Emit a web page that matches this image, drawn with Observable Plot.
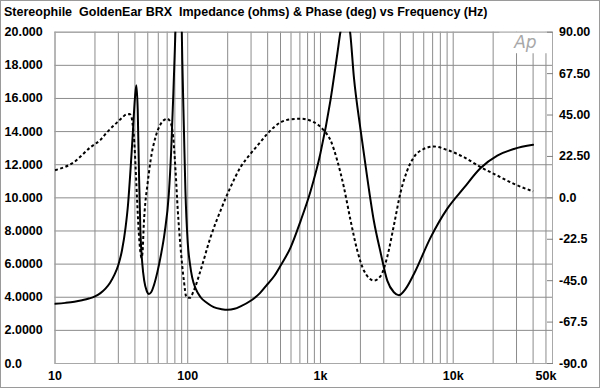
<!DOCTYPE html>
<html><head><meta charset="utf-8">
<script src="https://cdn.jsdelivr.net/npm/d3@7"></script>
<script src="https://cdn.jsdelivr.net/npm/@observablehq/plot@0.6"></script>
<style>
html,body{margin:0;padding:0;background:#fff;}
#wrap{position:relative;width:600px;height:388px;overflow:hidden;font-family:"Liberation Sans",Arial,Helvetica,sans-serif;}
#title{position:absolute;left:4px;top:5px;font-weight:bold;font-size:12.5px;color:#000;white-space:pre;line-height:14px;}
#border{position:absolute;left:0;top:0;width:600px;height:388px;box-sizing:border-box;border:1px solid #9a9a9a;pointer-events:none;}
</style></head>
<body><div id="wrap"><div id="chart"></div><div id="title">Stereophile  GoldenEar BRX  Impedance (ohms) &amp; Phase (deg) vs Frequency (Hz)</div><div id="border"></div></div>
<script>
// Impedance (ohms) vs frequency (Hz)
const impFreq = [10,12,14,16,18,20,22,24,26,28,30,32,34,35.5,37,38.5,40,41,42,43,44,45.5,47,49,51,53,56,59,63,67,72,75,78,80,83,86,89,91,93.5,96,100,104,108,115,125,140,157,180,200,225,250,300,350,400,450,500,595,708,842,1000,1190,1340,1420,1540,1666,1785,2005,2253,2526,2838,3187,3573,3900,4380,5060,6750,9030,12040,16090,21490,28670,40000];
const impOhms = [3.60,3.66,3.73,3.82,3.92,4.05,4.25,4.52,4.88,5.35,5.95,6.85,8.2,9.6,11.6,13.8,16.0,16.8,15.3,11.2,8.0,6.0,5.0,4.4,4.2,4.3,4.8,5.5,6.6,7.9,10.2,12.8,16.4,19.0,23.0,24.5,22.5,18.3,14.3,10.5,7.3,6.0,5.2,4.5,4.0,3.65,3.4,3.28,3.24,3.3,3.45,3.8,4.25,4.8,5.3,5.9,7.0,8.6,10.4,12.7,15.9,18.7,20.1,21.0,20.1,17.3,14.1,11.2,8.6,6.7,5.0,4.3,4.12,4.5,5.4,7.6,9.35,10.6,11.8,12.55,12.95,13.2];
// Phase (deg) vs frequency (Hz)
const phaseFreq = [10,13.9,18.5,22,24.7,29.4,32,34.5,36.5,37.8,38.8,39.6,40.4,41.6,42.8,44.1,44.8,45.6,46.7,48,49.5,52.4,57.2,62.4,67,70,74.2,77.7,80.9,84.2,88.3,93.5,97.9,103.7,111.2,124.9,148.5,176.7,210,250,297,350,400,500,600,708,892,1061,1192,1338,1501,1686,1894,2124,2526,2838,3187,3573,4014,4508,5058,6013,7155,9028,12040,16090,21490,28670,40000];
const phaseDeg = [15.0,19.4,27.5,31.5,35.7,41.0,43.5,45.3,45.5,43.5,37.5,30,18,-2,-19,-30,-32.5,-30,-14,-2,6,20,33,40,42.5,43,41,33,15,-7,-27,-45,-54,-54.3,-50.3,-39.5,-21.4,-6.9,5.8,16.7,23.9,30,35,41,42.7,43,41.1,36.6,31.2,20.3,5.8,-12.3,-28.6,-39.5,-44.9,-42.5,-32,-15,3,14.9,22.1,26.6,27.9,26,22.1,16.7,12.1,7.6,3.5];

// Axes / grid
const gridFreqs = [10,20,30,40,50,60,70,80,90,100,200,300,400,500,600,700,800,900,1000,2000,3000,4000,5000,6000,7000,8000,9000,10000,20000,30000,40000,50000];
const freqLabelValues = [10,100,1000,10000,50000];
const freqLabelTexts = ["10","100","1k","10k","50k"];
const ohmTicks = [20,18,16,14,12,10,8,6,4,2,0];
const ohmLabels = ["20.000","18.000","16.000","14.000","12.000","10.000","8.0000","6.0000","4.0000","2.0000","0.0"];
const phaseTicks = [90,67.5,45,22.5,0,-22.5,-45,-67.5,-90];
const phaseLabels = ["90.00","67.50","45.00","22.50","0.0","-22.5","-45.0","-67.5","-90.0"];
// Ap logo placement (data coords)
const logoBox = [{x1: 22500, x2: 54000, y1: 18.7, y2: 20}];
const logoText = [{f: 35000, z: 19.35, t: "Ap"}];

const phaseToOhm = p => (p + 90) / 9;
const impData = impFreq.map((f, i) => ({f, z: impOhms[i]}));
const phaseData = phaseFreq.map((f, i) => ({f, p: phaseDeg[i]}));

const font = "Liberation Sans, Arial, Helvetica, sans-serif";
const chart = Plot.plot({
  width: 600, height: 388,
  marginLeft: 54.5, marginRight: 48, marginTop: 31.7, marginBottom: 25,
  style: {background: "transparent", fontFamily: font, overflow: "visible"},
  x: {type: "log", domain: [10, 56000], axis: null},
  y: {domain: [0, 20], axis: null},
  marks: [
    Plot.ruleX(gridFreqs, {stroke: "#8c8c8c", strokeWidth: 1}),
    Plot.ruleY(ohmTicks, {stroke: "#8c8c8c", strokeWidth: 1}),
    Plot.rect(logoBox, {x1: "x1", x2: "x2", y1: "y1", y2: "y2", fill: "white"}),
    Plot.frame({stroke: "#a8a8a8", strokeWidth: 1}),
    Plot.axisY(phaseTicks.map(phaseToOhm), {anchor: "right", tickSize: 6, dx: -6, tickFormat: () => "", stroke: "#808080"}),
    Plot.text(logoText, {x: "f", y: "z", text: "t", fill: "#a8a8a8", fontSize: 17, fontStyle: "italic", fontWeight: 300, fontFamily: "DejaVu Sans"}),
    Plot.line(phaseData, {x: "f", y: d => phaseToOhm(d.p), stroke: "#000", strokeWidth: 2, strokeDasharray: "3,2.5", strokeLinecap: "butt", curve: "monotone-x", clip: true}),
    Plot.line(impData, {x: "f", y: "z", stroke: "#000", strokeWidth: 2, curve: "monotone-x", clip: true}),
    Plot.text(ohmTicks, {y: d => d, text: (d, i) => ohmLabels[i], frameAnchor: "left", dx: -50.5, textAnchor: "start", fontWeight: "bold", fontSize: 12.5, fill: "#000"}),
    Plot.text(phaseTicks, {y: d => phaseToOhm(d), text: (d, i) => phaseLabels[i], frameAnchor: "right", dx: 6.5, textAnchor: "start", fontWeight: "bold", fontSize: 12.5, fill: "#000"}),
    Plot.text(freqLabelValues, {x: d => d, text: (d, i) => freqLabelTexts[i], frameAnchor: "bottom", dy: 16, fontWeight: "bold", fontSize: 12.5, fill: "#000"})
  ]
});
document.getElementById("chart").appendChild(chart);
</script>
</body></html>
